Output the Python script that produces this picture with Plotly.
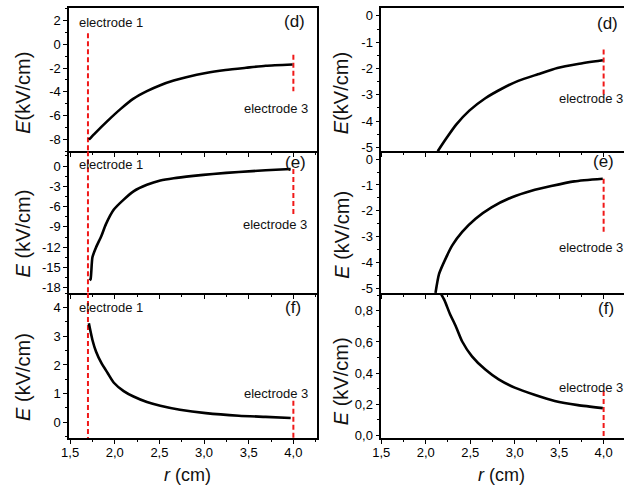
import plotly.graph_objects as go

W, H = 624, 491
FONT = "Liberation Sans, Arial, sans-serif"

# ---- field profiles E(r), left column -------------------------------------
r_d1 = [1.71, 1.77, 1.92, 2.07, 2.21, 2.36, 2.51, 2.66, 2.80, 3.02, 3.24, 3.47, 3.69, 3.99]
E_d1 = [-8.03, -7.56, -6.45, -5.42, -4.58, -3.95, -3.45, -3.06, -2.78, -2.42, -2.17, -1.98, -1.81, -1.70]

r_e1 = [1.72, 1.73, 1.75, 1.79, 1.85, 1.90, 1.99, 2.10, 2.21, 2.36, 2.51, 2.66, 2.88, 3.10, 3.39, 3.69, 3.97]
E_e1 = [-16.9, -16.7, -13.5, -12.05, -10.34, -8.63, -6.44, -4.97, -3.75, -2.78, -2.14, -1.80, -1.46, -1.17, -0.88, -0.63, -0.44]

r_f1 = [1.71, 1.75, 1.79, 1.85, 1.92, 1.99, 2.10, 2.21, 2.36, 2.51, 2.73, 3.02, 3.39, 3.69, 3.97]
E_f1 = [3.45, 2.87, 2.47, 2.07, 1.72, 1.38, 1.09, 0.90, 0.71, 0.58, 0.44, 0.32, 0.23, 0.19, 0.15]

# ---- field profiles E(r), right column ------------------------------------
r_d2 = [2.135, 2.23, 2.34, 2.49, 2.67, 2.86, 3.04, 3.26, 3.48, 3.71, 3.99]
E_d2 = [-5.14, -4.66, -4.14, -3.60, -3.13, -2.76, -2.47, -2.22, -1.98, -1.83, -1.69]

r_e2 = [2.11, 2.15, 2.23, 2.30, 2.41, 2.56, 2.74, 2.97, 3.19, 3.41, 3.67, 3.99]
E_e2 = [-5.16, -4.43, -3.79, -3.32, -2.81, -2.30, -1.86, -1.47, -1.22, -1.04, -0.86, -0.76]

r_f2 = [2.17, 2.21, 2.27, 2.34, 2.41, 2.52, 2.67, 2.82, 3.00, 3.23, 3.45, 3.71, 3.99]
E_f2 = [0.91, 0.868, 0.783, 0.698, 0.603, 0.508, 0.423, 0.36, 0.307, 0.26, 0.222, 0.195, 0.176]

# ---- electrode positions (cm) and the E spans their markers cover ----------
r_electrode1 = 1.70
r_electrode3 = 4.00
e1_span = {"d1": [0.92, -9.0], "e1": [2.2, -18.8], "f1": [4.51, -0.56]}
e3_span = {"d1": [-0.89, -3.95], "e1": [-0.44, -7.17], "f1": [0.75, -0.56],
           "d2": [-1.28, -3.03], "e2": [-0.76, -2.92], "f2": [0.286, -0.02]}

# ---- tick labels ----------------------------------------------------------
x_ticks = [1.5, 2.0, 2.5, 3.0, 3.5, 4.0]
x_ticktext = ["1,5", "2,0", "2,5", "3,0", "3,5", "4,0"]
y_ticks = {
    "d1": [2, 0, -2, -4, -6, -8],
    "e1": [0, -3, -6, -9, -12, -15, -18],
    "f1": [0, 1, 2, 3, 4],
    "d2": [0, -1, -2, -3, -4, -5],
    "e2": [0, -1, -2, -3, -4, -5],
    "f2": [0.0, 0.2, 0.4, 0.6, 0.8],
}
y_ticktext = {
    "d1": ["2", "0", "-2", "-4", "-6", "-8"],
    "e1": ["0", "-3", "-6", "-9", "-12", "-15", "-18"],
    "f1": ["0", "1", "2", "3", "4"],
    "d2": ["0", "-1", "-2", "-3", "-4", "-5"],
    "e2": ["0", "-1", "-2", "-3", "-4", "-5"],
    "f2": ["0,0", "0,2", "0,4", "0,6", "0,8"],
}
y_minor = {"d1": 1, "e1": 1.5, "f1": 0.5, "d2": 0.5, "e2": 0.5, "f2": 0.1}
y_range = {"d1": [-9.0, 3.02], "e1": [-18.77, 2.2], "f1": [-0.552, 4.507],
           "d2": [-5.139, 0.282], "e2": [-5.164, 0.305], "f2": [-0.017, 0.914]}

panel_letter = {"d1": "(d)", "e1": "(e)", "f1": "(f)", "d2": "(d)", "e2": "(e)", "f2": "(f)"}
y_title = {"d1": "<i>E</i>(kV/cm)", "e1": "<i>E</i> (kV/cm)", "f1": "<i>E</i> (kV/cm)",
           "d2": "<i>E</i>(kV/cm)", "e2": "<i>E</i> (kV/cm)", "f2": "<i>E</i> (kV/cm)"}

curves = {"d1": (r_d1, E_d1), "e1": (r_e1, E_e1), "f1": (r_f1, E_f1),
          "d2": (r_d2, E_d2), "e2": (r_e2, E_e2), "f2": (r_f2, E_f2)}

# ---- layout geometry (pixels) ----------------------------------------------
col_x = {1: (61.0, 312.0), 2: (377.7, 624.0)}
col_xrange = {1: [1.489, 4.259], 2: [1.5, 4.229]}
row_y = {"d": (8.5, 152.7), "e": (152.7, 296.0), "f": (296.0, 442.7)}


def px(x):
    return x / W


def py(y):
    return 1 - y / H


fig = go.Figure()
layout = dict(
    width=W, height=H,
    margin=dict(l=0, r=0, t=0, b=0),
    paper_bgcolor="white", plot_bgcolor="white",
    showlegend=False,
    font=dict(family=FONT, size=13, color="black"),
)
annotations = []
TICKFONT = dict(family=FONT, size=13, color="black")

panels = ["d1", "e1", "f1", "d2", "e2", "f2"]
for i, key in enumerate(panels, start=1):
    row, col = key[0], int(key[1])
    xa, ya = f"x{i}", f"y{i}"
    xname = "xaxis" if i == 1 else f"xaxis{i}"
    yname = "yaxis" if i == 1 else f"yaxis{i}"
    x0, x1 = col_x[col]
    top, bottom = row_y[row]

    layout[xname] = dict(
        domain=[px(x0), px(x1)], range=col_xrange[col], anchor=ya,
        # only the top row draws its own upper frame line; lower panels share
        # the bottom line of the panel above
        showline=True, linecolor="black", linewidth=1.5, mirror=(row == "d"),
        ticks="outside", ticklen=4, tickwidth=1.2, tickcolor="black",
        tickmode="array", tickvals=x_ticks, ticktext=x_ticktext,
        showticklabels=(row == "f"), ticklabelstandoff=-3,
        tickfont=TICKFONT,
        minor=dict(tickmode="linear", tick0=1.5, dtick=0.25, ticks="outside",
                   ticklen=2.5, tickwidth=1, tickcolor="black"),
        showgrid=False, zeroline=False, fixedrange=True,
    )
    layout[yname] = dict(
        domain=[py(bottom), py(top)], range=y_range[key], anchor=xa,
        showline=True, linecolor="black", linewidth=1.5, mirror=(col == 1),
        ticks="outside", ticklen=4, tickwidth=1.2, tickcolor="black",
        tickmode="array", tickvals=y_ticks[key], ticktext=y_ticktext[key],
        tickfont=TICKFONT,
        minor=dict(tickmode="linear", tick0=0, dtick=y_minor[key], ticks="outside",
                   ticklen=2.5, tickwidth=1, tickcolor="black"),
        showgrid=False, zeroline=False, fixedrange=True,
    )

    # electrode markers
    if key in e1_span:
        fig.add_trace(go.Scatter(
            x=[r_electrode1, r_electrode1], y=e1_span[key], xaxis=xa, yaxis=ya,
            mode="lines", line=dict(color="#f01818", width=2, dash="5px,3px"),
            hoverinfo="skip"))
    fig.add_trace(go.Scatter(
        x=[r_electrode3, r_electrode3], y=e3_span[key], xaxis=xa, yaxis=ya,
        mode="lines", line=dict(color="#f01818", width=2, dash="5px,3px"),
        hoverinfo="skip"))

    # field profile
    r_vals, e_vals = curves[key]
    fig.add_trace(go.Scatter(
        x=r_vals, y=e_vals, xaxis=xa, yaxis=ya, mode="lines",
        line=dict(color="black", width=2.6, shape="spline", smoothing=0.6)))

# ---- text labels -------------------------------------------------------------
def label(text, x, y, xanchor, size=13, angle=0):
    annotations.append(dict(
        text=text, x=px(x), y=py(y), xref="paper", yref="paper",
        xanchor=xanchor, yanchor="middle", showarrow=False, textangle=angle,
        font=dict(family=FONT, size=size, color="#111111")))


# left column
label("electrode 1", 69, 23, "left")
label("electrode 3", 305, 110, "right")
label("electrode 1", 69, 166, "left")
label("electrode 3", 304, 227, "right")
label("electrode 1", 69, 311, "left")
label("electrode 3", 305, 398, "right")
# right column
label("electrode 3", 625, 100, "right")
label("electrode 3", 625, 250, "right")
label("electrode 3", 625, 391, "right")

# panel letters
for key, (x, y) in {"d1": (302, 22), "e1": (303, 164), "f1": (298, 311),
                    "d2": (620, 24), "e2": (616, 163), "f2": (616, 312)}.items():
    label(panel_letter[key], x, y, "right", size=17)

# axis titles
for key, (x, y) in {"d1": (14, 94), "e1": (14, 236), "f1": (14, 381),
                    "d2": (337, 94), "e2": (337, 237), "f2": (337, 385)}.items():
    label(y_title[key], x, y, "center", size=20, angle=-90)
label("<i>r</i> (cm)", 181, 480, "center", size=18)
label("<i>r</i> (cm)", 500, 480, "center", size=18)

layout["annotations"] = annotations
fig.update_layout(**layout)
fig.write_html("out.html")
